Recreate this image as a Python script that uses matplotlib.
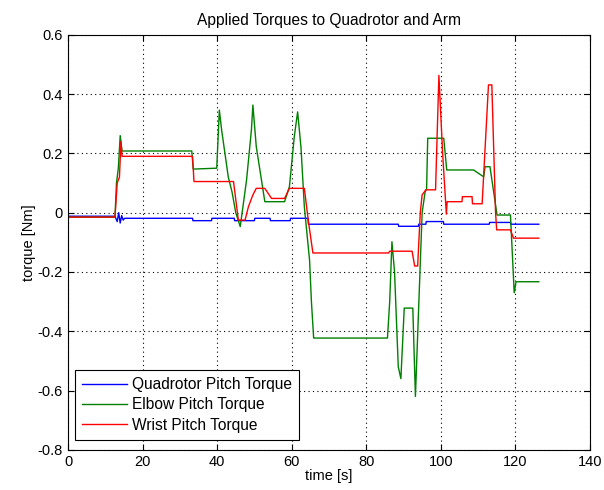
import numpy as np
import matplotlib
matplotlib.use("Agg")
import matplotlib.pyplot as plt

plt.rcParams['font.family'] = ['Liberation Sans', 'DejaVu Sans']

# quadrotor pitch torque
quad_t = [0, 12.6, 13.2, 13.6, 14.0, 14.4, 14.8, 15.2, 33.4, 33.5, 38.5, 38.6, 44.6, 44.7,
          50, 50.1, 54.2, 54.3, 59.6, 59.7, 64.4, 64.5, 88.6, 88.7, 94, 94.1, 96, 96.1,
          100.7, 100.8, 113, 113.1, 118.7, 118.8, 126.3]
quad_v = [-0.012, -0.012, -0.03, 0.0, -0.035, -0.01, -0.025, -0.019, -0.019, -0.027, -0.027, -0.019,
          -0.019, -0.027, -0.027, -0.019, -0.019, -0.027, -0.027, -0.019, -0.019, -0.039, -0.039, -0.046,
          -0.046, -0.039, -0.039, -0.03, -0.03, -0.039, -0.039, -0.033, -0.033, -0.039, -0.039]

# elbow pitch torque
elbow_t = [0, 12.6, 13.0, 13.5, 14.0, 14.5, 33.2, 33.6, 39.9, 40.6, 41.2, 42.1, 43.0, 44.0,
           45.0, 46.2, 47.9, 49.2, 49.6, 50.5, 51.9, 52.8, 58.1, 59.4, 60.7, 61.6, 62.5, 63.4,
           64.8, 65.3, 65.9, 85.7, 86.3, 86.9, 87.6, 88.6, 89.3, 90.2, 92.5, 93.2, 95.0, 95.8,
           96.2, 96.5, 100.8, 101.6, 108.8, 111.5, 111.9, 113.2, 115.1, 118.7, 119.7, 120.2, 126.3]
elbow_v = [-0.015, -0.015, 0.1, 0.15, 0.26, 0.208, 0.208, 0.147, 0.15, 0.346, 0.28, 0.2, 0.12,
           0.07, 0.0, -0.047, 0.11, 0.279, 0.363, 0.223, 0.11, 0.037, 0.037, 0.088, 0.256, 0.34,
           0.22, 0.02, -0.16, -0.3, -0.423, -0.423, -0.3, -0.098, -0.2, -0.52, -0.56, -0.322,
           -0.322, -0.62, 0.0, 0.07, 0.08, 0.251, 0.251, 0.144, 0.144, 0.121, 0.155, 0.155,
           -0.008, -0.008, -0.27, -0.233, -0.233]

# wrist pitch torque
wrist_t = [0, 12.6, 13.2, 13.8, 14.2, 14.5, 33.4, 33.8, 44.4, 45.7, 47.5, 48.4, 49.6, 50.5,
           52.8, 54.6, 58.1, 59.4, 63.4, 64.5, 65.7, 86.0, 86.3, 92.3, 93.0, 93.8, 94.5,
           95.0, 96.0, 98.6, 99.5, 100.5, 101.5, 101.7, 105.7, 105.8, 108.4, 108.5, 111.1,
           112.8, 113.7, 114.7, 115.0, 118.7, 119.5, 126.3]
wrist_v = [-0.015, -0.015, 0.1, 0.12, 0.24, 0.19, 0.19, 0.105, 0.105, -0.025, -0.025, 0.02,
           0.06, 0.082, 0.082, 0.048, 0.048, 0.082, 0.082, -0.03, -0.136, -0.136, -0.13, -0.13,
           -0.18, -0.18, 0.0, 0.06, 0.077, 0.077, 0.463, 0.2, -0.005, 0.037, 0.037, 0.054, 0.054,
           0.03, 0.03, 0.431, 0.431, 0.0, -0.058, -0.058, -0.086, -0.086]

labels = ['Quadrotor Pitch Torque', 'Elbow Pitch Torque', 'Wrist Pitch Torque']

fig = plt.figure(figsize=(6.04, 4.90), dpi=100)
ax = fig.add_axes([0.1126, 0.082, 0.864, 0.847])

ax.plot(quad_t, quad_v, color=(0, 0, 1), lw=1.0, label=labels[0])
ax.plot(elbow_t, elbow_v, color=(0, 0.5, 0), lw=1.0, label=labels[1])
ax.plot(wrist_t, wrist_v, color=(1, 0, 0), lw=1.0, label=labels[2])

ax.set_xlim(0, 140)
ax.set_ylim(-0.8, 0.6)
ax.set_xticks(np.arange(0, 141, 20))
ax.set_yticks(np.arange(-0.8, 0.61, 0.2))
ax.set_yticklabels(['-0.8', '-0.6', '-0.4', '-0.2', '0', '0.2', '0.4', '0.6'])
ax.grid(True, color='black', linestyle=(0, (1, 3)), linewidth=0.8)
ax.tick_params(direction='in', labelsize=10.5, length=4, top=True, right=True, pad=4)
for s in ax.spines.values():
    s.set_linewidth(0.8)

ax.set_title('Applied Torques to Quadrotor and Arm', fontsize=11.2, pad=7)
ax.set_xlabel('time [s]', fontsize=10.5, labelpad=0)
ax.set_ylabel('torque [Nm]', fontsize=10.5, labelpad=1)

leg = ax.legend(loc='lower left', bbox_to_anchor=(0.0134, 0.024), borderaxespad=0,
                fontsize=11.2, fancybox=False, edgecolor='black', framealpha=1,
                handlelength=2.9, handletextpad=0.3, labelspacing=0.35, borderpad=0.45)
leg.get_frame().set_linewidth(0.8)

fig.savefig('out.png', dpi=100)
